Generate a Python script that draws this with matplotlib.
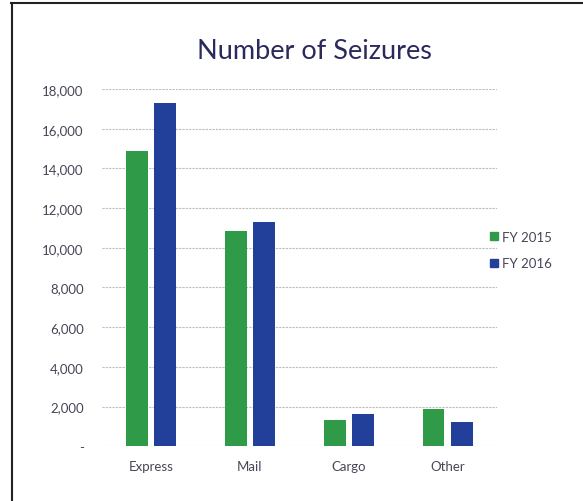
import matplotlib
matplotlib.use("Agg")
from matplotlib import pyplot as plt
from matplotlib.lines import Line2D
import numpy as np

categories = ["Express", "Mail", "Cargo", "Other"]
fy2015 = [14900, 10850, 1310, 1880]
fy2016 = [17300, 11310, 1630, 1240]
series_labels = ["FY 2015", "FY 2016"]
yticks = [0, 2000, 4000, 6000, 8000, 10000, 12000, 14000, 16000, 18000]

GREEN = "#2f9a48"
BLUE = "#22409a"
TEXT = "#4a4458"

plt.rcParams["font.family"] = ["Lato", "DejaVu Sans"]

fig = plt.figure(figsize=(5.83, 5.02), dpi=100)
ax = fig.add_axes([0.1745, 0.109, 0.678, 0.7117])

x = np.arange(len(categories))
w = 0.22
off = 0.143
ax.bar(x - off, fy2015, width=w, color=GREEN, label=series_labels[0], zorder=3)
ax.bar(x + off, fy2016, width=w, color=BLUE, label=series_labels[1], zorder=3)

ax.set_xlim(-0.5, len(categories) - 0.5)
ax.set_ylim(0, 18000)
ax.set_yticks(yticks)
ax.set_yticklabels(["-" if v == 0 else f"{v:,}" for v in yticks])
ax.set_xticks(x)
ax.set_xticklabels(categories)
ax.tick_params(axis="both", length=0, labelsize=9.5, colors=TEXT)
ax.tick_params(axis="y", pad=13)
ax.tick_params(axis="x", pad=10)
for v in yticks:
    ax.axhline(v, color="#bdbdbd", lw=0.8, ls=(0, (2, 1)), zorder=1)
for s in ax.spines.values():
    s.set_visible(False)

fig.text(0.54, 0.898, "Number of Seizures", ha="center", va="center",
         fontsize=19.5, color="#2b2a5c")

handles = [Line2D([], [], marker="s", ls="", color=GREEN, markersize=6),
           Line2D([], [], marker="s", ls="", color=BLUE, markersize=6)]
fig.legend(handles, series_labels, loc="center left",
           bbox_to_anchor=(0.815, 0.5), frameon=False, fontsize=9.5,
           handlelength=1.0, handletextpad=0.1, labelspacing=1.1,
           labelcolor=TEXT)

# outer frame (top and left edges visible)
fig.add_artist(Line2D([0.019, 1.0], [0.992, 0.992], color="#222222", lw=1.5,
                      transform=fig.transFigure))
fig.add_artist(Line2D([0.02, 0.02], [0.0, 0.992], color="#222222", lw=1.5,
                      transform=fig.transFigure))

fig.savefig("out.png", dpi=100)
plt.close(fig)
